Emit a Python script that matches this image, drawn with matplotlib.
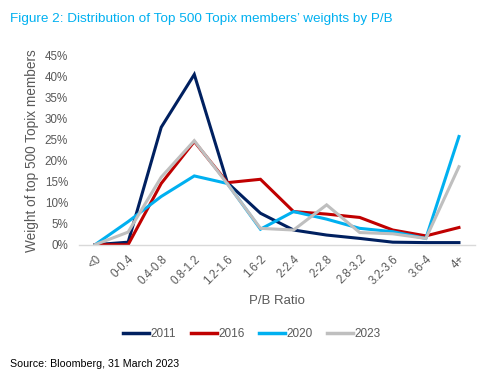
import matplotlib
matplotlib.use("Agg")
import matplotlib.pyplot as plt
import numpy as np

plt.rcParams['font.family'] = ['Liberation Sans', 'DejaVu Sans']

categories = ["<0", "0-0.4", "0.4-0.8", "0.8-1.2", "1.2-1.6", "1.6-2", "2-2.4",
              "2-2.8", "2.8-3.2", "3.2-3.6", "3.6-4", "4+"]
s2011 = [0.0, 0.6, 28.0, 40.6, 14.8, 7.5, 3.5, 2.3, 1.5, 0.6, 0.5, 0.5]
s2016 = [0.0, 0.0, 14.6, 24.6, 14.8, 15.6, 7.9, 7.3, 6.5, 3.5, 2.1, 4.1]
s2020 = [0.0, 5.5, 11.5, 16.4, 14.6, 3.7, 7.9, 6.1, 3.9, 3.1, 1.5, 25.8]
s2023 = [0.0, 3.0, 16.1, 24.8, 14.5, 3.9, 3.5, 9.5, 2.9, 2.6, 1.5, 18.6]
series = [("2011", s2011, "#002060"), ("2016", s2016, "#C00000"),
          ("2020", s2020, "#00B0F0"), ("2023", s2023, "#BFBFBF")]

gray = "#595959"
fig = plt.figure(figsize=(4.93, 3.81), dpi=100)
ax = fig.add_axes([78.5/493, 1-244.7/381, (475.5-78.5)/493, (244.7-56)/381])

x = np.arange(len(categories))
for name, vals, col in series:
    ax.plot(x, vals, color=col, lw=2.2, label=name, solid_joinstyle='miter')

ax.set_xlim(-0.5, len(categories)-0.5)
ax.set_ylim(0, 45)
ax.set_yticks(np.arange(0, 46, 5))
ax.set_yticklabels([f"{v}%" for v in range(0, 46, 5)], color=gray, fontsize=8.4)
ax.set_xticks(x)
ax.set_xticklabels(categories, rotation=45, ha='right', rotation_mode='anchor',
                   color=gray, fontsize=8.3)
ax.tick_params(length=0)
ax.tick_params(axis='y', pad=7.5)
ax.tick_params(axis='x', pad=6)
for s in ['top', 'right', 'left']:
    ax.spines[s].set_visible(False)
ax.spines['bottom'].set_color('#D9D9D9')
ax.spines['bottom'].set_linewidth(1.0)
ax.set_xlabel("P/B Ratio", color=gray, fontsize=9.5, labelpad=6)
ax.set_ylabel("Weight of top 500 Topix members", color=gray, fontsize=9.8, labelpad=4.5)

leg = fig.legend(loc='center', bbox_to_anchor=(252/493, 1-334/381), ncol=4,
                 frameon=False, fontsize=8.5, handlelength=2.2, handletextpad=0.15,
                 columnspacing=1.2)
for t in leg.get_texts():
    t.set_color(gray)
for h in leg.get_lines():
    h.set_linewidth(2.5)

fig.text(10/493, 1-19/381, "Figure 2: Distribution of Top 500 Topix members\u2019 weights by P/B",
         color="#00B0F0", fontsize=9.7, va='center', ha='left')
fig.text(10/493, 1-364/381, "Source: Bloomberg, 31 March 2023", color="black",
         fontsize=7.7, va='center', ha='left')

fig.savefig("out.png", dpi=100)
